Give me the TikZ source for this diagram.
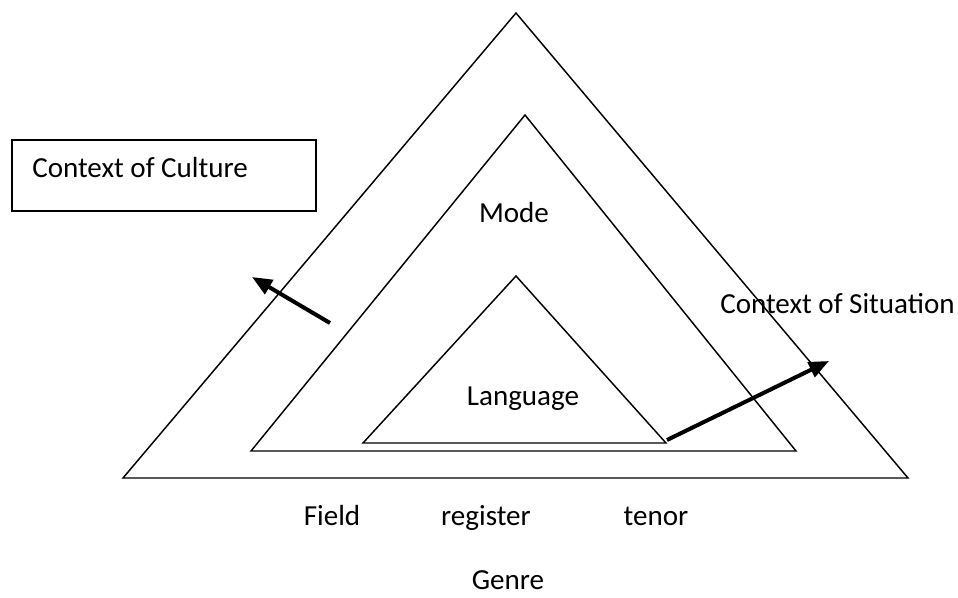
\documentclass[tikz,border=0pt]{standalone}
\usepackage{fontspec}
\setmainfont{Carlito}
\usetikzlibrary{arrows.meta}
\begin{document}
\begin{tikzpicture}[x=0.75pt,y=-0.75pt,
  tri/.style={draw=black,line width=1.1pt,line join=miter},
  framebox/.style={draw=black,line width=1.4pt,inner sep=0pt,minimum width=228pt,minimum height=53.25pt,anchor=north west},
  lbl/.style={inner sep=0pt,anchor=base,font=\fontsize{21.8}{26}\selectfont},
  thickarrow/.style={line width=3pt,-{Triangle[length=15pt,width=12pt]}}]
\useasboundingbox (0,0) rectangle (958,597);
% triangles
\draw[tri] (516,13) -- (908,478) -- (123,478) -- cycle;
\draw[tri] (525,115) -- (796,451) -- (251,451) -- cycle;
\draw[tri] (516,276) -- (666,443) -- (363,443) -- cycle;
% box
\node[framebox] (box) at (11,139) {};
\node[lbl,anchor=base west] (culture) at (32,177) {Context of Culture};
% labels
\node[lbl] (mode) at (514,222) {Mode};
\node[lbl] (lang) at (523,405) {Language};
\node[lbl,anchor=base west] (situation) at (720,313) {Context of Situation};
\node[lbl] (field) at (332,525) {Field};
\node[lbl] (register) at (486,525) {register};
\node[lbl] (tenor) at (656,525) {tenor};
\node[lbl] (genre) at (508,589) {Genre};
% arrows
\coordinate (a1s) at (330,323);
\coordinate (a1e) at (252,277);
\coordinate (a2s) at (667,440);
\coordinate (a2e) at (829,361);
\draw[thickarrow] (a1s) -- (a1e);
\draw[thickarrow] (a2s) -- (a2e);
\end{tikzpicture}
\end{document}
